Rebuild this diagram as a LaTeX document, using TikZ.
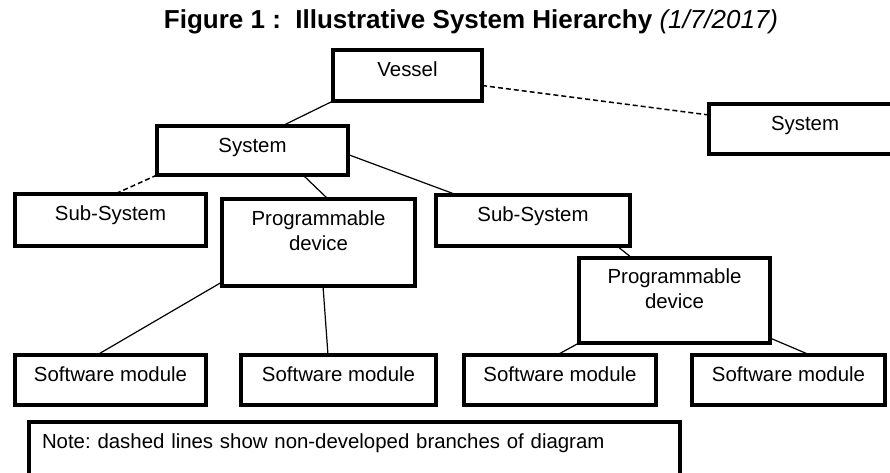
\documentclass[tikz,border=0pt]{standalone}
\usepackage{fontspec}
\setmainfont{Liberation Sans}

\begin{document}
\begin{tikzpicture}[x=1pt, y=-1pt,
    box/.style={draw, line width=4pt, inner sep=0pt, outer sep=0pt, anchor=north, align=center,
      text height=26pt, font=\fontsize{20.4}{25}\selectfont},
    link/.style={line width=1.2pt},
    stub/.style={line width=1.5pt, dash pattern=on 5pt off 3pt}]
      \useasboundingbox (0,0) rectangle (890,472);

      \node[font=\bfseries\fontsize{26}{30}\selectfont] (title) at (471,22)
        {Figure 1 :\ \ Illustrative System Hierarchy {\mdseries\itshape (1/7/2017)}};

      \node[box, minimum width=149pt, text depth=25pt] (vessel) at (407.5,50) {Vessel};
      \node[box, minimum width=192pt, text depth=24pt] (sysR) at (805,104) {System};
      \node[box, minimum width=191pt, text depth=23pt] (sys) at (252.5,126) {System};
      \node[box, minimum width=191pt, text depth=26pt] (subL) at (110.5,194) {Sub-System};
      \node[box, minimum width=193pt, text height=51pt, text depth=36pt] (progL) at (318.5,199) {Programmable\\device};
      \node[box, minimum width=194pt, text depth=25pt] (subM) at (533,195) {Sub-System};
      \node[box, minimum width=191pt, text height=50pt, text depth=35pt] (progR) at (674.5,258) {Programmable\\device};
      \node[box, minimum width=191pt, text depth=24pt] (sw1) at (110.5,355) {Software module};
      \node[box, minimum width=195pt, text depth=24pt] (sw2) at (338.5,355) {Software module};
      \node[box, minimum width=192pt, text depth=24pt] (sw3) at (560,355) {Software module};
      \node[box, minimum width=193pt, text depth=24pt] (sw4) at (788.5,355) {Software module};
      \node[box, align=left, text width=625pt, inner xsep=13pt, text depth=60pt] (note) at (354.5,422)
        {Note:\ dashed lines show non-developed branches of diagram};

      \draw[link] (vessel.south west) -- ([xshift=29.5pt]sys.north);
      \draw[stub] ([yshift=-10pt]vessel.east) -- ([yshift=-11pt]sysR.north west);
      \draw[stub] (sys.south west) -- ([xshift=4.5pt]subL.north);
      \draw[link] ([xshift=50.5pt]sys.south) -- ([xshift=9.5pt]progL.north);
      \draw[link] ([yshift=-4pt]sys.east) -- ([xshift=-76pt]subM.north);
      \draw[link] ([xshift=84pt]subM.south) -- ([xshift=-42.5pt]progR.north);
      \draw[link] ([yshift=4pt]progL.south west) -- ([xshift=-13.5pt]sw1.north);
      \draw[link] ([xshift=4.5pt]progL.south) -- ([xshift=-10.5pt]sw2.north);
      \draw[link] (progR.south west) -- ([xshift=-3pt]sw3.north);
      \draw[link] ([yshift=5pt]progR.south east) -- ([xshift=21.5pt]sw4.north);
    \end{tikzpicture}
\end{document}
